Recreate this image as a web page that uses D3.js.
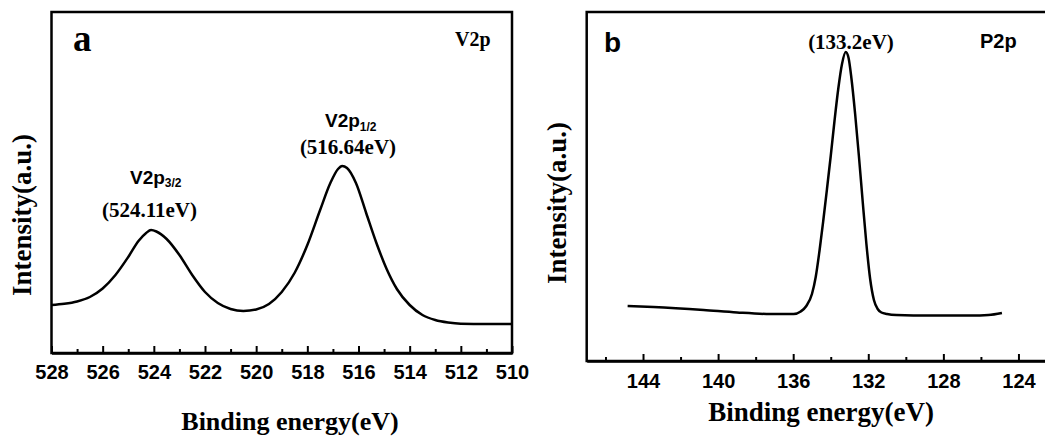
<!DOCTYPE html>
<html>
<head>
<meta charset="utf-8">
<script src="https://cdn.jsdelivr.net/npm/d3@7"></script>
<style>
  body { margin: 0; background: #fff; }
  svg { display: block; }
  .serif { font-family: "Times New Roman", "Liberation Serif", serif; font-weight: bold; }
  .sans { font-family: Arial, "Liberation Sans", sans-serif; font-weight: bold; }
</style>
</head>
<body>
<svg id="chart" width="1045" height="436"></svg>
<script>
// Panel a: V2p spectrum (binding energy in eV, intensity in a.u.)
var energyA = [528.0, 527.5, 527.0, 526.5, 526.0, 525.5, 525.0, 524.6, 524.3, 524.11, 523.9,
               523.5, 523.0, 522.5, 522.0, 521.5, 521.0, 520.5, 520.0, 519.5, 519.0,
               518.5, 518.0, 517.5, 517.1, 516.8, 516.64, 516.45, 516.1, 515.7, 515.3,
               514.9, 514.5, 514.0, 513.5, 513.0, 512.5, 512.0, 511.0, 510.0];
var intensityA = [48, 49.2, 51.5, 56, 64.5, 78, 96, 112, 120, 123, 121.5,
                  114, 98, 78, 61, 50, 44, 42, 43.5, 49, 61,
                  80, 108, 143, 170, 184, 187, 185, 170, 140, 110,
                  84, 64, 48, 38, 33, 30.5, 29.3, 29, 29];

// Panel b: P2p spectrum
var energyB = [144.82, 143.44, 140.77, 138.99, 137.22, 135.98, 135.6, 135.3, 135.0, 134.8,
               134.6, 134.4, 134.2, 134.0, 133.8, 133.6, 133.4, 133.2, 133.05, 132.9,
               132.7, 132.5, 132.3, 132.1, 131.9, 131.7, 131.5, 131.3, 131.0, 130.5,
               128.7, 126.5, 125.6, 124.88];
var intensityB = [55, 54, 51, 48.5, 47, 47, 49.5, 55, 67, 84,
                  110, 140, 172, 205, 240, 272, 297, 309, 303, 283,
                  247, 205, 160, 117, 82, 61, 52, 48.5, 47, 46,
                  45.5, 45.5, 46, 48];

var majorTicksA = [528, 526, 524, 522, 520, 518, 516, 514, 512, 510];
var minorTicksA = [527, 525, 523, 521, 519, 517, 515, 513, 511];
var majorTicksB = [144, 140, 136, 132, 128, 124];
var minorTicksB = [146, 142, 138, 134, 130, 126];

var svg = d3.select("#chart");

function drawPanel(opt) {
  var x = d3.scaleLinear().domain(opt.xDomain).range([opt.left, opt.right]);
  var y = d3.scaleLinear().domain(opt.yDomain).range([opt.bottom, opt.top]);

  // frame
  svg.append("rect")
      .attr("x", opt.left)
      .attr("y", opt.top)
      .attr("width", opt.right - opt.left)
      .attr("height", opt.bottom - opt.top)
      .attr("fill", "none")
      .attr("stroke", "#000")
      .attr("stroke-width", 2.5);

  // minor ticks (inward)
  svg.append("g")
      .attr("transform", "translate(0," + opt.bottom + ")")
      .call(d3.axisBottom(x).tickValues(opt.minor).tickSizeInner(-4).tickSizeOuter(0).tickFormat(""))
      .call(function(g) {
        g.select(".domain").remove();
        g.selectAll("line").attr("stroke-width", 2);
      });

  // major ticks + labels
  svg.append("g")
      .attr("transform", "translate(0," + opt.bottom + ")")
      .call(d3.axisBottom(x).tickValues(opt.major).tickSizeInner(-7).tickSizeOuter(0)
            .tickPadding(opt.pad).tickFormat(d3.format("d")))
      .call(function(g) {
        g.select(".domain").attr("stroke-width", 2.5);
        g.selectAll("line").attr("stroke-width", 2);
        g.selectAll("text")
            .attr("class", "sans")
            .attr("font-size", 20)
            .attr("fill", "#000");
      });

  // spectrum
  var line = d3.line()
      .x(function(d) { return x(d[0]); })
      .y(function(d) { return y(d[1]); })
      .curve(d3.curveMonotoneX);

  svg.append("path")
      .datum(d3.zip(opt.energy, opt.intensity))
      .attr("d", line)
      .attr("fill", "none")
      .attr("stroke", "#000")
      .attr("stroke-width", 2.5)
      .attr("stroke-linejoin", "round");

  // axis titles
  svg.append("text")
      .attr("class", "serif")
      .attr("font-size", opt.xTitleSize)
      .attr("text-anchor", "middle")
      .attr("x", opt.xTitle[0])
      .attr("y", opt.xTitle[1])
      .text("Binding energy(eV)");

  svg.append("text")
      .attr("class", "serif")
      .attr("font-size", 27)
      .attr("text-anchor", "middle")
      .attr("transform", "translate(" + opt.yTitle[0] + "," + opt.yTitle[1] + ")rotate(-90)")
      .text("Intensity(a.u.)");

  return x;
}

drawPanel({
  left: 51.5, right: 512, top: 12, bottom: 353,
  xDomain: [528, 510], yDomain: [0, 341],
  major: majorTicksA, minor: minorTicksA, pad: 12,
  energy: energyA, intensity: intensityA,
  xTitle: [290, 430], xTitleSize: 26, yTitle: [31, 215]
});

drawPanel({
  left: 586.7, right: 1056, top: 12, bottom: 361,
  xDomain: [147, 122], yDomain: [0, 349],
  major: majorTicksB, minor: minorTicksB, pad: 13,
  energy: energyB, intensity: intensityB,
  xTitle: [821, 421], xTitleSize: 27, yTitle: [566, 203]
});

// Panel a annotations
svg.append("text").attr("class", "serif").attr("font-size", 37)
    .attr("x", 73).attr("y", 51).text("a");
svg.append("text").attr("class", "serif").attr("font-size", 20)
    .attr("x", 455).attr("y", 46).text("V2p");

var p32 = svg.append("text").attr("class", "sans").attr("font-size", 19)
    .attr("x", 130).attr("y", 183.5);
p32.append("tspan").text("V2p");
p32.append("tspan").attr("font-size", 12).attr("dy", 3.5).text("3/2");
svg.append("text").attr("class", "serif").attr("font-size", 21)
    .attr("text-anchor", "middle").attr("x", 149.5).attr("y", 217).text("(524.11eV)");

var p12 = svg.append("text").attr("class", "sans").attr("font-size", 19)
    .attr("x", 325).attr("y", 127);
p12.append("tspan").text("V2p");
p12.append("tspan").attr("font-size", 12).attr("dy", 3.5).text("1/2");
svg.append("text").attr("class", "serif").attr("font-size", 21)
    .attr("text-anchor", "middle").attr("x", 348).attr("y", 154).text("(516.64eV)");

// Panel b annotations
svg.append("text").attr("class", "sans").attr("font-size", 28)
    .attr("x", 604).attr("y", 51.5).text("b");
svg.append("text").attr("class", "serif").attr("font-size", 21)
    .attr("text-anchor", "middle").attr("x", 851).attr("y", 49).text("(133.2eV)");
svg.append("text").attr("class", "sans").attr("font-size", 20)
    .attr("x", 980).attr("y", 48).text("P2p");
</script>
</body>
</html>
